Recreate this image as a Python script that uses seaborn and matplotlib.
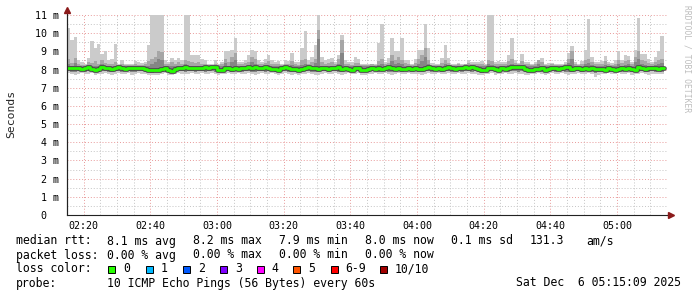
import numpy as np
import pandas as pd
import matplotlib
matplotlib.use("Agg")
import matplotlib.pyplot as plt
import seaborn as sns
from matplotlib.patches import Rectangle
from matplotlib.lines import Line2D

# ---------------- data (ms, one value per minute from 02:15) ----------------
start_time = "2025-12-06 02:15"

ping_max = [10.3, 9.65, 9.8, 8.5, 8.4, 8.3, 8.66, 9.55, 9.2, 9.4, 8.85, 9.0, 8.5, 8.6, 9.4,
            8.3, 8.5, 8.3, 8.3, 8.3, 8.45, 8.4, 8.35, 8.4, 9.35, 11.5, 11.5, 11.5, 11.5, 8.5,
            8.4, 8.66, 8.5, 8.66, 8.5, 11.5, 11.5, 8.8, 8.8, 8.8, 8.6, 8.5, 8.3, 8.3, 8.5,
            8.3, 8.4, 9.0, 9.0, 9.1, 9.73, 8.4, 8.4, 8.5, 8.8, 9.1, 9.0, 8.5, 8.4, 8.6,
            8.8, 8.5, 8.4, 8.45, 8.3, 8.5, 8.45, 8.9, 8.4, 8.4, 9.2, 10.1, 8.5, 8.7, 9.35,
            11.0, 8.7, 8.5, 8.6, 8.65, 8.4, 8.8, 9.9, 8.5, 8.4, 8.4, 8.7, 8.6, 8.3, 8.3,
            8.3, 8.3, 8.3, 9.45, 10.5, 8.4, 8.66, 9.76, 9.0, 9.0, 9.76, 8.5, 8.5, 8.3, 8.6,
            9.08, 9.1, 10.5, 9.2, 8.35, 8.3, 8.3, 8.66, 9.35, 8.66, 8.3, 8.3, 8.35, 8.3, 8.3,
            8.5, 8.4, 8.4, 8.4, 8.45, 8.3, 11.5, 11.5, 8.4, 8.45, 8.4, 8.4, 8.8, 9.73, 8.5,
            8.35, 8.85, 8.4, 8.4, 8.3, 8.4, 8.4, 8.66, 8.3, 8.35, 8.35, 8.3, 8.3, 8.3, 8.4,
            8.9, 9.27, 8.4, 8.3, 8.45, 9.08, 10.77, 8.7, 8.4, 8.4, 8.45, 8.77, 8.4, 8.35, 8.5,
            9.0, 8.5, 8.8, 8.77, 8.4, 9.1, 10.86, 8.86, 8.85, 8.6, 8.4, 8.7, 9.0, 9.87]

ping_hi1 = [8.6, 8.35, 8.65, 8.3, 8.25, 8.25, 8.4, 8.35, 8.45, 8.3, 8.5, 8.35, 8.3, 8.3, 8.4,
            8.25, 8.3, 8.25, 8.25, 8.25, 8.3, 8.25, 8.25, 8.3, 8.45, 8.6, 8.7, 9.0, 8.95, 8.3,
            8.3, 8.4, 8.3, 8.4, 8.3, 8.55, 8.45, 8.4, 8.35, 8.4, 8.3, 8.3, 8.25, 8.25, 8.3,
            8.25, 8.3, 8.6, 8.4, 8.7, 8.9, 8.3, 8.3, 8.35, 8.4, 8.7, 8.6, 8.3, 8.3, 8.35,
            8.45, 8.3, 8.3, 8.3, 8.25, 8.3, 8.3, 8.45, 8.3, 8.25, 8.5, 8.6, 8.3, 8.4, 8.6,
            10.2, 8.4, 8.3, 8.35, 8.4, 8.3, 8.6, 9.6, 8.3, 8.3, 8.25, 8.35, 8.35, 8.25, 8.25,
            8.25, 8.3, 8.25, 8.45, 8.6, 8.3, 8.35, 8.8, 8.5, 8.7, 8.5, 8.35, 8.3, 8.25, 8.35,
            8.6, 8.8, 9.2, 8.5, 8.25, 8.25, 8.25, 8.35, 8.5, 8.35, 8.25, 8.25, 8.3, 8.25, 8.3,
            8.35, 8.3, 8.3, 8.3, 8.3, 8.25, 8.5, 8.45, 8.3, 8.3, 8.3, 8.3, 8.45, 8.6, 8.35,
            8.3, 8.45, 8.3, 8.3, 8.25, 8.3, 8.5, 8.4, 8.25, 8.25, 8.3, 8.25, 8.25, 8.25, 8.3,
            8.6, 9.0, 8.3, 8.25, 8.3, 8.5, 8.6, 8.4, 8.3, 8.3, 8.3, 8.45, 8.3, 8.25, 8.3,
            8.55, 8.35, 8.45, 8.5, 8.3, 8.7, 9.0, 8.5, 8.45, 8.35, 8.3, 8.4, 8.5, 8.6]

ping_hi2 = [8.3, 8.2, 8.35, 8.2, 8.18, 8.2, 8.22, 8.2, 8.22, 8.2, 8.3, 8.2, 8.2, 8.18, 8.22,
            8.2, 8.2, 8.18, 8.2, 8.2, 8.2, 8.18, 8.2, 8.2, 8.22, 8.3, 8.4, 8.6, 8.5, 8.2,
            8.2, 8.22, 8.2, 8.2, 8.2, 8.3, 8.22, 8.2, 8.2, 8.22, 8.2, 8.2, 8.2, 8.2, 8.2,
            8.18, 8.2, 8.35, 8.22, 8.4, 8.5, 8.2, 8.2, 8.2, 8.22, 8.4, 8.3, 8.2, 8.2, 8.2,
            8.25, 8.2, 8.2, 8.18, 8.2, 8.2, 8.2, 8.25, 8.2, 8.18, 8.25, 8.3, 8.2, 8.22, 8.35,
            9.7, 8.22, 8.2, 8.2, 8.22, 8.2, 8.3, 8.9, 8.2, 8.2, 8.18, 8.22, 8.2, 8.18, 8.18,
            8.2, 8.2, 8.2, 8.25, 8.3, 8.2, 8.22, 8.45, 8.3, 8.35, 8.3, 8.2, 8.2, 8.2, 8.22,
            8.3, 8.45, 8.7, 8.3, 8.2, 8.2, 8.2, 8.22, 8.3, 8.22, 8.2, 8.18, 8.2, 8.2, 8.22,
            8.22, 8.25, 8.2, 8.2, 8.18, 8.18, 8.3, 8.25, 8.2, 8.2, 8.2, 8.2, 8.25, 8.3, 8.25,
            8.25, 8.25, 8.2, 8.18, 8.18, 8.2, 8.3, 8.22, 8.2, 8.2, 8.2, 8.2, 8.2, 8.2, 8.22,
            8.35, 8.6, 8.2, 8.2, 8.2, 8.3, 8.35, 8.25, 8.2, 8.2, 8.2, 8.25, 8.2, 8.2, 8.2,
            8.3, 8.22, 8.25, 8.3, 8.2, 8.4, 8.6, 8.3, 8.25, 8.22, 8.2, 8.25, 8.3, 8.35]

ping_lo1 = [7.9, 7.88, 7.86, 7.9, 7.9, 7.88, 7.9, 7.9, 7.84, 7.88, 7.9, 7.9, 7.88, 7.86, 7.9,
            7.9, 7.88, 7.9, 7.9, 7.86, 7.88, 7.9, 7.9, 7.88, 7.84, 7.82, 7.86, 7.84, 7.88, 7.9,
            7.86, 7.84, 7.88, 7.9, 7.9, 7.88, 7.9, 7.9, 7.88, 7.9, 7.9, 7.88, 7.9, 7.9, 7.88,
            7.86, 7.88, 7.9, 7.9, 7.88, 7.9, 7.9, 7.88, 7.9, 7.9, 7.88, 7.86, 7.9, 7.9, 7.88,
            7.9, 7.9, 7.88, 7.84, 7.9, 7.9, 7.88, 7.86, 7.88, 7.84, 7.88, 7.9, 7.9, 7.88, 7.86,
            7.84, 7.9, 7.9, 7.88, 7.9, 7.9, 7.88, 7.86, 7.9, 7.9, 7.88, 7.9, 7.9, 7.86, 7.84,
            7.88, 7.9, 7.9, 7.88, 7.9, 7.9, 7.88, 7.86, 7.9, 7.9, 7.88, 7.9, 7.9, 7.88, 7.9,
            7.88, 7.86, 7.9, 7.9, 7.88, 7.9, 7.9, 7.88, 7.9, 7.9, 7.88, 7.9, 7.9, 7.88, 7.9,
            7.9, 7.88, 7.9, 7.86, 7.82, 7.88, 7.9, 7.9, 7.86, 7.88, 7.9, 7.9, 7.88, 7.9, 7.9,
            7.88, 7.9, 7.86, 7.84, 7.88, 7.9, 7.9, 7.88, 7.86, 7.9, 7.9, 7.88, 7.9, 7.9, 7.88,
            7.86, 7.88, 7.9, 7.9, 7.88, 7.9, 7.9, 7.88, 7.8, 7.86, 7.88, 7.9, 7.9, 7.88, 7.9,
            7.9, 7.88, 7.9, 7.9, 7.86, 7.88, 7.9, 7.9, 7.88, 7.86, 7.9, 7.88, 7.9, 7.88]

ping_min = [7.8, 7.75, 7.72, 7.78, 7.8, 7.75, 7.78, 7.8, 7.7, 7.75, 7.78, 7.8, 7.75, 7.72, 7.78,
            7.8, 7.75, 7.78, 7.8, 7.72, 7.75, 7.8, 7.78, 7.75, 7.7, 7.68, 7.72, 7.7, 7.75, 7.8,
            7.72, 7.7, 7.75, 7.8, 7.78, 7.75, 7.78, 7.8, 7.75, 7.78, 7.8, 7.75, 7.78, 7.8, 7.75,
            7.72, 7.75, 7.78, 7.8, 7.75, 7.78, 7.8, 7.75, 7.78, 7.8, 7.75, 7.72, 7.78, 7.8, 7.75,
            7.78, 7.8, 7.75, 7.7, 7.78, 7.8, 7.75, 7.72, 7.75, 7.7, 7.75, 7.78, 7.8, 7.75, 7.72,
            7.7, 7.78, 7.8, 7.75, 7.78, 7.8, 7.75, 7.72, 7.78, 7.8, 7.75, 7.78, 7.8, 7.72, 7.7,
            7.75, 7.78, 7.8, 7.75, 7.78, 7.8, 7.75, 7.72, 7.78, 7.8, 7.75, 7.78, 7.8, 7.75, 7.78,
            7.75, 7.72, 7.78, 7.8, 7.75, 7.78, 7.8, 7.75, 7.78, 7.8, 7.75, 7.78, 7.8, 7.75, 7.78,
            7.8, 7.75, 7.78, 7.72, 7.68, 7.75, 7.78, 7.8, 7.72, 7.75, 7.78, 7.8, 7.75, 7.78, 7.8,
            7.75, 7.78, 7.72, 7.7, 7.75, 7.78, 7.8, 7.75, 7.72, 7.78, 7.8, 7.75, 7.78, 7.8, 7.75,
            7.72, 7.75, 7.78, 7.8, 7.75, 7.78, 7.8, 7.75, 7.6, 7.72, 7.75, 7.78, 7.8, 7.75, 7.78,
            7.8, 7.75, 7.78, 7.8, 7.72, 7.75, 7.78, 7.8, 7.75, 7.72, 7.78, 7.75, 7.78, 7.75]

median_rtt = [8.1, 8.1, 8.1, 8.1, 8.05, 8.1, 8.12, 8.05, 7.98, 8.05, 8.12, 8.08, 8.1, 8.05, 8.1,
              8.12, 8.1, 8.05, 8.08, 8.08, 8.1, 8.1, 8.08, 8.05, 7.97, 7.95, 8.0, 7.96, 8.05, 8.08,
              7.98, 7.93, 8.05, 8.08, 8.1, 8.12, 8.08, 8.1, 8.1, 8.08, 8.1, 8.12, 8.1, 8.12, 8.12,
              7.98, 8.0, 8.08, 8.1, 8.05, 8.1, 8.05, 8.1, 8.08, 8.12, 8.1, 8.12, 8.1, 8.08, 8.12,
              8.08, 8.05, 8.05, 8.0, 8.1, 8.12, 8.08, 8.02, 8.05, 8.0, 8.05, 8.1, 8.12, 8.08, 8.1,
              8.05, 8.1, 8.08, 8.05, 8.1, 8.08, 8.12, 8.05, 8.1, 8.05, 8.0, 8.1, 8.08, 8.0, 7.98,
              8.05, 8.08, 8.05, 8.1, 8.05, 8.08, 8.12, 8.1, 8.05, 8.08, 8.05, 8.05, 8.08, 8.05, 8.1,
              8.05, 8.02, 8.08, 8.12, 8.08, 8.05, 8.1, 8.05, 8.1, 8.12, 8.08, 8.05, 8.08, 8.1, 8.12,
              8.08, 8.15, 8.1, 8.05, 7.95, 8.0, 8.08, 8.1, 8.05, 8.0, 8.08, 8.05, 8.1, 8.12, 8.15,
              8.15, 8.12, 8.05, 7.98, 8.0, 8.02, 8.05, 8.08, 8.0, 8.05, 8.08, 8.1, 8.05, 8.08, 8.12,
              8.15, 8.05, 8.08, 8.1, 8.05, 8.1, 8.05, 8.08, 8.02, 8.05, 8.05, 8.0, 8.08, 8.05, 8.0,
              8.05, 8.1, 8.05, 8.08, 8.05, 8.0, 8.12, 8.08, 8.05, 8.1, 8.08, 8.1, 8.05, 8.08]

xtick_labels = ["02:20", "02:40", "03:00", "03:20", "03:40", "04:00", "04:20", "04:40", "05:00"]
ytick_values = [0, 1, 2, 3, 4, 5, 6, 7, 8, 9, 10, 11]
ytick_labels = ["0  ", "1 m", "2 m", "3 m", "4 m", "5 m", "6 m", "7 m", "8 m", "9 m", "10 m", "11 m"]

stats_rtt = ["median rtt:", "8.1 ms avg", "8.2 ms max", "7.9 ms min", "8.0 ms now", "0.1 ms sd", "131.3", "am/s"]
stats_loss = ["packet loss:", "0.00 % avg", "0.00 % max", "0.00 % min", "0.00 % now"]
loss_labels = ["0", "1", "2", "3", "4", "5", "6-9", "10/10"]
loss_colors = ["#26ff00", "#00b8ff", "#0059ff", "#7e00ff", "#ff00ff", "#ff5500", "#ff0000", "#a10000"]
probe_text = "10 ICMP Echo Pings (56 Bytes) every 60s"
stamp_text = "Sat Dec  6 05:15:09 2025"

# ---------------- figure ----------------
W, H = 697, 297
sns.set_theme(style="white")
plt.rcParams['font.family'] = ['DejaVu Sans Mono', 'DejaVu Sans']

n = len(median_rtt)
edges = pd.date_range(start_time, periods=n + 1, freq="min")

def ext(a):
    return list(a) + [a[-1]]

df = pd.DataFrame({"time": edges, "max": ext(ping_max), "hi1": ext(ping_hi1), "hi2": ext(ping_hi2),
                   "lo1": ext(ping_lo1), "min": ext(ping_min), "median": ext(median_rtt)})

fig = plt.figure(figsize=(W / 100, H / 100), dpi=100, facecolor="white")
ax = fig.add_axes([67 / W, (H - 215) / H, 600 / W, 200 / H])
ax.set_facecolor("white")

ax.fill_between(df["time"], df["min"], df["max"], step="post", color="#cbcbcb", lw=0, zorder=2)
ax.fill_between(df["time"], df["lo1"], df["hi1"], step="post", color="#a6a6a6", lw=0, zorder=3)
ax.fill_between(df["time"], df["lo1"], df["hi2"], step="post", color="#858585", lw=0, zorder=4)
sns.lineplot(data=df, x="time", y="median", drawstyle="steps-post", color="#4a4a4a",
             lw=3.4, ax=ax, zorder=5)
sns.lineplot(data=df, x="time", y="median", drawstyle="steps-post", color="#26ff00",
             lw=2.0, ax=ax, zorder=6)

t0 = pd.Timestamp(start_time)
ax.set_xlim(t0, t0 + pd.Timedelta(minutes=180))
ax.set_ylim(0, 11)

major_x = pd.to_datetime(["2025-12-06 " + s for s in xtick_labels])
minor_x = pd.date_range(t0, t0 + pd.Timedelta(minutes=180), freq="5min")
ax.set_xticks(major_x)
ax.set_xticklabels(xtick_labels)
ax.set_xticks(minor_x, minor=True)
ax.set_yticks(ytick_values)
ax.set_yticklabels(ytick_labels)
ax.set_yticks(np.arange(0.5, 11, 1.0), minor=True)

ax.grid(which="minor", color="#c4c4c4", ls=(0, (1, 2)), lw=0.7, zorder=1)
ax.grid(which="major", color="#e89a9a", ls=(0, (1, 2)), lw=0.7, zorder=1)
ax.set_axisbelow(True)

ax.tick_params(axis="both", which="both", length=0, labelsize=7.2, colors="black")
ax.tick_params(axis="y", pad=6)
ax.tick_params(axis="x", pad=4)
ax.set_xlabel("")
ax.set_ylabel("")

for s in ["top", "right"]:
    ax.spines[s].set_visible(False)
for s in ["left", "bottom"]:
    ax.spines[s].set_color("#222222")
    ax.spines[s].set_linewidth(0.8)

# axis extensions and arrows
fig.add_artist(Line2D([667 / W, 670 / W], [(H - 215) / H] * 2, color="#222222", lw=0.8))
fig.add_artist(Line2D([67 / W, 67 / W], [(H - 215) / H, (H - 11) / H], color="#222222", lw=0.8))
fig.add_artist(Line2D([671 / W], [(H - 215) / H], marker=">", color="#8b1a1a", ms=4.5, lw=0))
fig.add_artist(Line2D([67 / W], [(H - 10) / H], marker="^", color="#8b1a1a", ms=4.5, lw=0))

fig.text(11 / W, 1 - 114 / H, "Seconds", rotation=90, ha="center", va="center", fontsize=8.2)
fig.text(687 / W, 1 - 5 / H, "RRDTOOL / TOBI OETIKER", rotation=270, ha="center", va="top",
         fontsize=5.8, color="#bdbdbd")

fs = 8.3
def T(x, y, s, **kw):
    fig.text(x / W, 1 - y / H, s, ha=kw.pop("ha", "left"), va="center", fontsize=fs, color="black", **kw)

rtt_x = [16, 106.7, 193.3, 279, 365.3, 451, 530, 585.8]
for x, s in zip(rtt_x, stats_rtt):
    T(x, 241, s)
loss_x = [16, 106.7, 193.3, 279, 365.3]
for x, s in zip(loss_x, stats_loss):
    T(x, 255, s)

T(16, 269, "loss color:")
sq_x = [108.3, 145.7, 182.7, 220, 256.7, 293.3, 330.7, 380]
for x, lab, col in zip(sq_x, loss_labels, loss_colors):
    fig.add_artist(Rectangle((x / W, 1 - 273 / H), 7 / W, 7 / H, transform=fig.transFigure,
                             facecolor=col, edgecolor="black", lw=0.7))
    T(x + 15, 269, lab)

T(16, 283, "probe:")
T(106.7, 283, probe_text)
T(681, 283, stamp_text, ha="right")

fig.savefig("out.png", dpi=100, facecolor="white")
